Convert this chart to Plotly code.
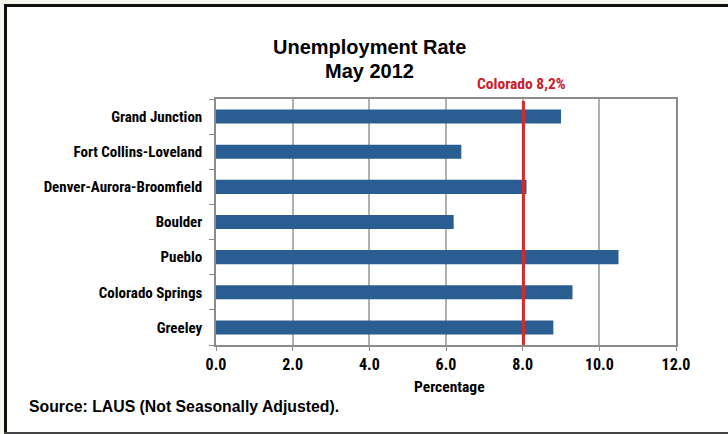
import plotly.graph_objects as go

categories = ["Grand Junction", "Fort Collins-Loveland", "Denver-Aurora-Broomfield",
              "Boulder", "Pueblo", "Colorado Springs", "Greeley"]
rates = [9.0, 6.4, 8.1, 6.2, 10.5, 9.3, 8.8]
colorado_rate = 8.02
colorado_label = "Colorado 8,2%"
x_ticks = [0, 2, 4, 6, 8, 10, 12]
title_lines = ["Unemployment Rate", "May 2012"]

W, H = 728, 434
L, R, T, B = 216, 52, 99, 89
pw, ph = W - L - R, H - T - B

def px(x):
    return (x - L) / pw

def py(y):
    return (H - B - y) / ph

NARROW = "Liberation Sans Narrow, Arial Narrow, Roboto Condensed, Arial, sans-serif"
REG = "Liberation Sans, Arial, sans-serif"

fig = go.Figure()
fig.add_trace(go.Bar(
    y=categories[::-1], x=rates[::-1], orientation="h",
    marker=dict(color="#2a5e92", line=dict(width=0)),
    width=0.4,
))

fig.update_layout(
    width=W, height=H,
    margin=dict(l=L, r=R, t=T, b=B),
    paper_bgcolor="white", plot_bgcolor="white",
    showlegend=False,
    xaxis=dict(range=[0, 12], tickvals=x_ticks, ticktext=[f"<b>{v:.1f}</b>" for v in x_ticks],
               showgrid=True, gridcolor="#b0b0b0", gridwidth=1.5,
               showline=True, linecolor="#8c8c8c", linewidth=1.5, mirror=True,
               ticks="outside", ticklen=4, tickcolor="#8c8c8c",
               tickfont=dict(family=NARROW, size=16, color="black"),
               zeroline=False),
    yaxis=dict(showgrid=False, showline=True, linecolor="#8c8c8c", linewidth=1.5, mirror=True,
               ticks="outside", ticklen=5, tickcolor="#8c8c8c", tickson="boundaries",
               ticklabelstandoff=9,
               tickfont=dict(family=NARROW, size=15, color="black"),
               tickmode="array", tickvals=categories[::-1],
               ticktext=[f"<b>{c}</b>" for c in categories[::-1]]),
)

# Title (two lines, tight spacing)
for line, yc in zip(title_lines, [47, 71]):
    fig.add_annotation(text=f"<b>{line}</b>", xref="paper", yref="paper",
                       x=px(369), y=py(yc), showarrow=False, xanchor="center", yanchor="middle",
                       font=dict(family=REG, size=20, color="black"))

# Axis title
fig.add_annotation(text="<b>Percentage</b>", xref="paper", yref="paper",
                   x=px(449), y=py(387), showarrow=False, xanchor="center", yanchor="middle",
                   font=dict(family=NARROW, size=15.5, color="black"))

# Colorado reference line
fig.add_shape(type="line", xref="x", yref="paper", x0=colorado_rate, x1=colorado_rate,
              y0=0, y1=py(101), line=dict(color="#d42a2a", width=3))
fig.add_annotation(text=f"<b>{colorado_label}</b>", xref="paper", yref="paper",
                   x=px(521), y=py(84), showarrow=False, xanchor="center", yanchor="middle",
                   font=dict(family=NARROW, size=15.5, color="#c8202a"))

# Source note
fig.add_annotation(text="<b>Source: LAUS (Not Seasonally Adjusted).</b>", xref="paper", yref="paper",
                   x=px(27), y=py(406), showarrow=False, xanchor="left", yanchor="middle",
                   font=dict(family=REG, size=15.8, color="black"))

# Frame
cream = "#f8f7f0"
fig.add_shape(type="rect", xref="paper", yref="paper", x0=px(0), x1=px(W), y0=py(0), y1=py(4),
              fillcolor=cream, line=dict(width=0), layer="above")
fig.add_shape(type="rect", xref="paper", yref="paper", x0=px(0), x1=px(4), y0=py(0), y1=py(H),
              fillcolor=cream, line=dict(width=0), layer="above")
fig.add_shape(type="rect", xref="paper", yref="paper", x0=px(4), x1=px(W), y0=py(4), y1=py(7),
              fillcolor="#111111", line=dict(width=0), layer="above")
fig.add_shape(type="rect", xref="paper", yref="paper", x0=px(4), x1=px(7), y0=py(4), y1=py(H),
              fillcolor="#111111", line=dict(width=0), layer="above")
fig.add_shape(type="rect", xref="paper", yref="paper", x0=px(4), x1=px(W), y0=py(432), y1=py(H),
              fillcolor="#444444", line=dict(width=0), layer="above")

fig.write_html("out.html", config={"displayModeBar": False},
               post_script="document.body.style.margin='0';document.body.style.overflow='hidden';")
